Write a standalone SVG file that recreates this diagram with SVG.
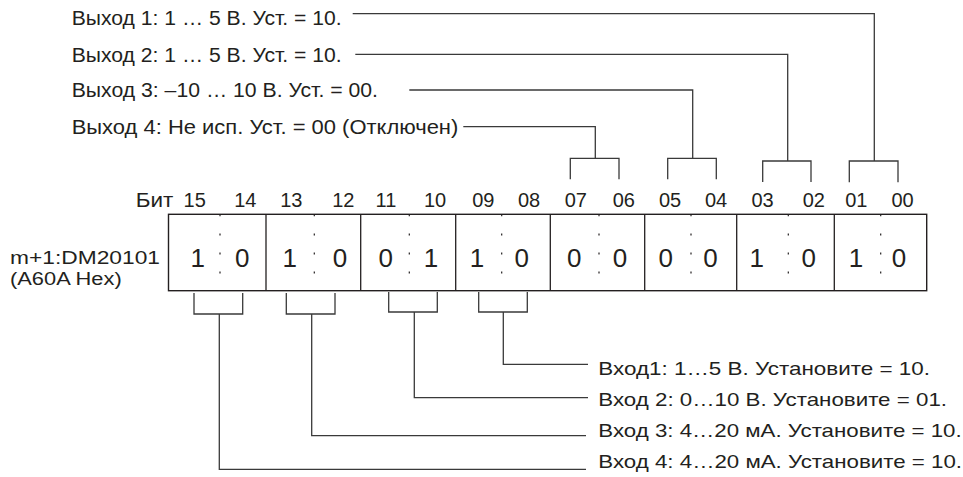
<svg xmlns="http://www.w3.org/2000/svg" width="963" height="477" viewBox="0 0 963 477">
<style>
  text { font-family: "Liberation Sans", Arial, sans-serif; fill: #231f20; }
  .lbl { font-size: 19.5px; }
  .inl { font-size: 18.5px; }
  .bit { font-size: 20px; text-anchor: middle; }
  .val { font-size: 26px; text-anchor: middle; }
  .reg { font-size: 20px; }
  .regl { font-size: 17.5px; }
  .box { fill: none; stroke: #231f20; stroke-width: 1.4; }
  .div { stroke: #231f20; stroke-width: 1.3; }
  .dot { stroke: #231f20; stroke-width: 1.2; stroke-dasharray: 2 17.1; }
  .wire { fill: none; stroke: #3a3a3a; stroke-width: 1.3; }
</style>

<g id="out1"><text class="lbl" x="71.7" y="25" textLength="270" lengthAdjust="spacingAndGlyphs">Выход 1: 1 … 5 В. Уст. = 10.</text></g>
<g id="out2"><text class="lbl" x="71.7" y="61.7" textLength="270" lengthAdjust="spacingAndGlyphs">Выход 2: 1 … 5 В. Уст. = 10.</text></g>
<g id="out3"><text class="lbl" x="71.7" y="97.3" textLength="306.3" lengthAdjust="spacingAndGlyphs">Выход 3: –10 … 10 В. Уст. = 00.</text></g>
<g id="out4"><text class="lbl" x="71.7" y="134" textLength="386.6" lengthAdjust="spacingAndGlyphs">Выход 4: Не исп. Уст. = 00 (Отключен)</text></g>

<g id="bits">
  <text class="reg" x="135.7" y="207.3" textLength="37.6" lengthAdjust="spacingAndGlyphs">Бит</text>
  <text class="bit" x="194.7" y="207.3">15</text>
  <text class="bit" x="245.3" y="207.3">14</text>
  <text class="bit" x="291.3" y="207.3">13</text>
  <text class="bit" x="343.3" y="207.3">12</text>
  <text class="bit" x="386" y="207.3">11</text>
  <text class="bit" x="435" y="207.3">10</text>
  <text class="bit" x="483.3" y="207.3">09</text>
  <text class="bit" x="529" y="207.3">08</text>
  <text class="bit" x="575.8" y="207.3">07</text>
  <text class="bit" x="623.8" y="207.3">06</text>
  <text class="bit" x="670" y="207.3">05</text>
  <text class="bit" x="716" y="207.3">04</text>
  <text class="bit" x="762.5" y="207.3">03</text>
  <text class="bit" x="813.8" y="207.3">02</text>
  <text class="bit" x="856.3" y="207.3">01</text>
  <text class="bit" x="902.5" y="207.3">00</text>
</g>

<g id="reg-label">
  <text class="regl" x="10" y="264" textLength="150" lengthAdjust="spacingAndGlyphs">m+1:DM20101</text>
  <text class="regl" x="10" y="284.5" textLength="111.7" lengthAdjust="spacingAndGlyphs">(A60A Hex)</text>
</g>

<g id="register">
  <rect class="box" x="168.5" y="214.3" width="758.2" height="76.4"/>
  <g class="div">
    <line x1="266" y1="214.3" x2="266" y2="290.7"/>
    <line x1="360.7" y1="214.3" x2="360.7" y2="290.7"/>
    <line x1="455.7" y1="214.3" x2="455.7" y2="290.7"/>
    <line x1="550.3" y1="214.3" x2="550.3" y2="290.7"/>
    <line x1="644.7" y1="214.3" x2="644.7" y2="290.7"/>
    <line x1="736.7" y1="214.3" x2="736.7" y2="290.7"/>
    <line x1="834.3" y1="214.3" x2="834.3" y2="290.7"/>
  </g>
  <g class="dot">
    <line x1="220" y1="214.3" x2="220" y2="290.7"/>
    <line x1="314.3" y1="214.3" x2="314.3" y2="290.7"/>
    <line x1="409.3" y1="214.3" x2="409.3" y2="290.7"/>
    <line x1="501.7" y1="214.3" x2="501.7" y2="290.7"/>
    <line x1="599" y1="214.3" x2="599" y2="290.7"/>
    <line x1="691" y1="214.3" x2="691" y2="290.7"/>
    <line x1="788.3" y1="214.3" x2="788.3" y2="290.7"/>
    <line x1="880.7" y1="214.3" x2="880.7" y2="290.7"/>
  </g>
  <text class="val" x="197.7" y="266.7">1</text>
  <text class="val" x="242.2" y="266.7">0</text>
  <text class="val" x="289.7" y="266.7">1</text>
  <text class="val" x="340" y="266.7">0</text>
  <text class="val" x="385.8" y="266.7">0</text>
  <text class="val" x="431" y="266.7">1</text>
  <text class="val" x="477" y="266.7">1</text>
  <text class="val" x="521.7" y="266.7">0</text>
  <text class="val" x="574.2" y="266.7">0</text>
  <text class="val" x="620" y="266.7">0</text>
  <text class="val" x="665.8" y="266.7">0</text>
  <text class="val" x="710.5" y="266.7">0</text>
  <text class="val" x="756.8" y="266.7">1</text>
  <text class="val" x="808.8" y="266.7">0</text>
  <text class="val" x="856" y="266.7">1</text>
  <text class="val" x="899" y="266.7">0</text>
</g>

<g id="in1"><text class="inl" x="598.3" y="374.5" textLength="331.7" lengthAdjust="spacingAndGlyphs">Вход1: 1…5 В. Установите = 10.</text></g>
<g id="in2"><text class="inl" x="598.3" y="406" textLength="348.7" lengthAdjust="spacingAndGlyphs">Вход 2: 0…10 В. Установите = 01.</text></g>
<g id="in3"><text class="inl" x="598.3" y="436.7" textLength="363.4" lengthAdjust="spacingAndGlyphs">Вход 3: 4…20 мА. Установите = 10.</text></g>
<g id="in4"><text class="inl" x="598.3" y="467.5" textLength="363.7" lengthAdjust="spacingAndGlyphs">Вход 4: 4…20 мА. Установите = 10.</text></g>

<g id="connectors" class="wire">
  <path d="M352.7,13.7 H874.3 V161"/>
  <path d="M849.3,182.3 V161 H898 V182.3"/>
  <path d="M355.3,54.3 H787.7 V161"/>
  <path d="M762.7,182 V161 H811 V182"/>
  <path d="M409.3,90 H692.7 V158.3"/>
  <path d="M667.7,179.3 V158.3 H716.3 V179.3"/>
  <path d="M463.3,126.7 H595.3 V158.3"/>
  <path d="M570.3,179.3 V158.3 H619 V179.3"/>

  <path d="M194,293 V314 H242.7 V293"/>
  <path d="M286.3,293 V314 H335 V293"/>
  <path d="M388.7,292 V312 H437.3 V292"/>
  <path d="M478.7,292 V312 H527.3 V292"/>
  <path d="M503.3,312 V364.3 H588"/>
  <path d="M414.3,312 V397.7 H588"/>
  <path d="M311.7,314 V435.7 H586"/>
  <path d="M219.3,314 V469.3 H586"/>
</g>
</svg>
